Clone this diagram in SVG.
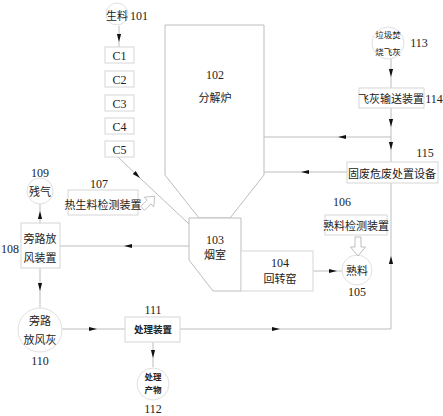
<svg xmlns="http://www.w3.org/2000/svg" width="443" height="416" viewBox="0 0 443 416">
<defs>
<marker id="a" markerWidth="8" markerHeight="6" refX="8" refY="3" orient="auto" markerUnits="userSpaceOnUse"><path d="M0,0.9 L8,3 L0,5.1z" fill="#111"/></marker>
<style>
.ln{stroke:#bdbdbd;stroke-width:1;fill:none}
.bx{stroke:#d6d6d6;stroke-width:1;fill:#fff}
.eq{stroke:#bdbdbd;stroke-width:1;fill:#fff}
.ci{stroke:#e0e0e0;stroke-width:1;fill:#fff}
.ha{stroke:#bdbdbd;stroke-width:1;fill:#fff}
text{font-family:"Liberation Serif","Noto Sans CJK SC",serif;fill:#222;text-anchor:middle}
.cn{font-size:11px}
.nm{font-size:12px}
.sm{font-size:8.5px}
.bd{font-family:"Noto Sans CJK SC",sans-serif;font-size:9.5px;font-weight:bold}
.bs{font-family:"Noto Sans CJK SC",sans-serif;font-size:8.5px;font-weight:bold}
</style>
</defs>
<rect width="443" height="416" fill="#fff"/>
<g id="connectors">
<path class="ln" d="M119,26 V42" marker-end="url(#a)"/><path class="ln" d="M119,42 V47"/>
<path class="ln" d="M118,157 L140,178" marker-end="url(#a)"/><path class="ln" d="M140,178 L189,224"/>
<path class="ln" d="M189,246 H124" marker-end="url(#a)"/><path class="ln" d="M124,246 H60"/>
<path class="ln" d="M40,223 V211" marker-end="url(#a)"/><path class="ln" d="M40,211 V204"/>
<path class="ln" d="M40,268 V291" marker-end="url(#a)"/><path class="ln" d="M40,291 V308"/>
<path class="ln" d="M62,329 H97" marker-end="url(#a)"/><path class="ln" d="M97,329 H125"/>
<path class="ln" d="M180,329 H280" marker-end="url(#a)"/><path class="ln" d="M280,329 H391"/>
<path class="ln" d="M391,329 V256" marker-end="url(#a)"/><path class="ln" d="M391,256 V183"/>
<path class="ln" d="M347,172 H301" marker-end="url(#a)"/><path class="ln" d="M301,172 H264"/>
<path class="ln" d="M391,59 V77" marker-end="url(#a)"/><path class="ln" d="M391,77 V88"/>
<path class="ln" d="M391,108 V127" marker-end="url(#a)"/><path class="ln" d="M391,127 V150" marker-end="url(#a)"/><path class="ln" d="M391,150 V162"/>
<path class="ln" d="M391,137 H338" marker-end="url(#a)"/><path class="ln" d="M338,137 H264"/>
<path class="ln" d="M153,342 V358" marker-end="url(#a)"/><path class="ln" d="M153,358 V367"/>
<path class="ln" d="M313,271 H337" marker-end="url(#a)"/><path class="ln" d="M337,271 H342"/>
</g>
<g id="n101"><circle class="ci" cx="117" cy="14" r="11"/><text class="cn" x="117" y="20">生料</text><text class="nm" x="139" y="20">101</text></g>
<g id="c1"><rect class="bx" x="105" y="47" width="29" height="16"/><text class="nm" x="119.5" y="60">C1</text></g>
<g id="c2"><rect class="bx" x="105" y="71" width="29" height="16"/><text class="nm" x="119.5" y="84">C2</text></g>
<g id="c3"><rect class="bx" x="105" y="95" width="29" height="16"/><text class="nm" x="119.5" y="108">C3</text></g>
<g id="c4"><rect class="bx" x="105" y="118" width="29" height="16"/><text class="nm" x="119.5" y="131">C4</text></g>
<g id="c5"><rect class="bx" x="105" y="141" width="29" height="16"/><text class="nm" x="119.5" y="154">C5</text></g>
<g id="n102"><path class="eq" d="M165,25 H264 V175 L230,218 H199 L165,175 Z"/><text class="nm" x="215" y="79">102</text><text class="cn" x="215" y="102">分解炉</text></g>
<g id="n103"><path class="eq" d="M189,218 H241 V291 H213 L189,260 Z"/><text class="nm" x="215" y="244">103</text><text class="cn" x="215" y="259">烟室</text></g>
<g id="n104"><rect class="bx" x="241" y="251" width="72" height="40"/><text class="nm" x="280" y="267">104</text><text class="cn" x="280" y="283">回转窑</text></g>
<g id="n105"><circle class="ci" cx="357" cy="270" r="15"/><text class="cn" x="357" y="275">熟料</text><text class="nm" x="357" y="296">105</text></g>
<g id="n106"><text class="nm" x="342" y="206">106</text><rect class="bx" x="325" y="215" width="62" height="20"/><text class="cn" x="356" y="230">熟料检测装置</text><path class="ha" d="M355,237 H361 V247 H365.5 L358,256 L350.5,247 H355 Z"/></g>
<g id="n107"><text class="nm" x="99" y="188">107</text><rect class="bx" x="68" y="190" width="70" height="25"/><text class="cn" x="103" y="209">热生料检测装置</text><path class="ha" transform="translate(149,202) rotate(-135) scale(0.9)" d="M-3,-10 H3 V0 H7.5 L0,9 L-7.5,0 H-3 Z"/></g>
<g id="n108"><text class="nm" x="10" y="253">108</text><rect class="bx" x="21" y="223" width="39" height="45"/><text class="cn" x="40" y="243">旁路放</text><text class="cn" x="40" y="262">风装置</text></g>
<g id="n109"><text class="nm" x="40" y="177">109</text><circle class="ci" cx="40" cy="191" r="13"/><text class="cn" x="40" y="196">残气</text></g>
<g id="n110"><circle class="ci" cx="40" cy="330" r="22"/><text class="cn" x="40" y="325">旁路</text><text class="cn" x="40" y="344">放风灰</text><text class="nm" x="40" y="365">110</text></g>
<g id="n111"><text class="nm" x="153" y="314">111</text><rect class="bx" x="125" y="317" width="55" height="25"/><text class="bd" x="153" y="333">处理装置</text></g>
<g id="n112"><circle class="ci" cx="153" cy="384" r="16"/><text class="bs" x="153" y="380">处理</text><text class="bs" x="153" y="393">产物</text><text class="nm" x="153" y="413">112</text></g>
<g id="n113"><circle class="ci" cx="388" cy="43" r="16"/><text class="sm" x="388" y="38">垃圾焚</text><text class="sm" x="388" y="55">烧飞灰</text><text class="nm" x="419" y="47">113</text></g>
<g id="n114"><rect class="bx" x="359" y="88" width="65" height="20"/><text class="cn" x="391" y="103">飞灰输送装置</text><text class="nm" x="434" y="103">114</text></g>
<g id="n115"><text class="nm" x="425" y="157">115</text><rect class="bx" x="347" y="162" width="91" height="21"/><text class="cn" x="392" y="178">固废危废处置设备</text></g>
</svg>
